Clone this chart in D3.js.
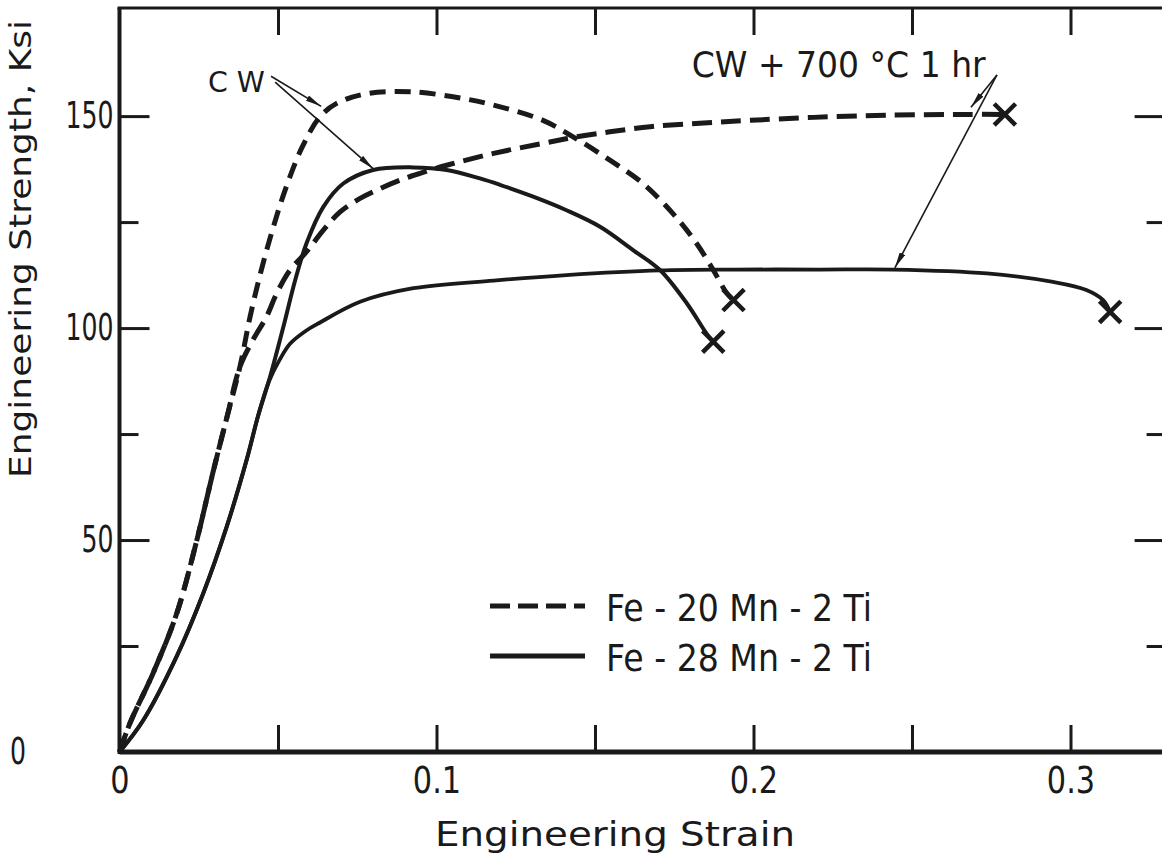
<!DOCTYPE html>
<html>
<head>
<meta charset="utf-8">
<script src="https://cdn.jsdelivr.net/npm/d3@7"></script>
<style>
  html, body { margin: 0; padding: 0; background: #fff; }
  svg { display: block; }
  text { font-family: "DejaVu Sans", sans-serif; fill: #1a1a1a; }
</style>
</head>
<body>
<svg id="chart" width="1162" height="860"></svg>
<script>
// Engineering stress-strain curves, Fe-Mn-Ti alloys

const xTickVals = [0.05, 0.1, 0.15, 0.2, 0.25, 0.3];
const xLabelVals = [0, 0.1, 0.2, 0.3];
const yMajorTicks = [50, 100, 150];
const yMinorTicks = [25, 75, 125];
const yLabelVals = [0, 50, 100, 150];

// Fe-20Mn-2Ti, cold worked
const strain20CW = [0, 0.0033, 0.0106, 0.0181, 0.0244, 0.0295, 0.0339, 0.038, 0.0412, 0.0445, 0.048, 0.052,
    0.0575, 0.0632, 0.0685, 0.078, 0.0926, 0.108, 0.118, 0.1336, 0.144, 0.1547, 0.165, 0.1746, 0.182,
    0.1873, 0.1916, 0.1937];
const stress20CW = [0, 6.8, 18.6, 32.8, 50, 66, 79, 90.9, 102.7, 113, 122.5, 132,
    142.5, 149.8, 153, 155.3, 155.7, 154.2, 152.6, 149, 144.7, 139.6, 134.2, 127, 120,
    113.7, 108.2, 106.6];

// Fe-20Mn-2Ti, cold worked + 700 C 1 hr
const strain20HT = [0, 0.0033, 0.0106, 0.0181, 0.0244, 0.0295, 0.0339, 0.038, 0.0421, 0.0464, 0.0496, 0.0538,
    0.059, 0.0643, 0.0696, 0.0759, 0.0822, 0.0885, 0.0948, 0.1032, 0.118, 0.1337, 0.1442, 0.1547,
    0.1674, 0.183, 0.199, 0.219, 0.242, 0.267, 0.2793];
const stress20HT = [0, 6.8, 18.6, 32.8, 50, 66, 79, 90.9, 97.2, 102.7, 108.2, 113.7,
    118, 123.1, 127.4, 130.6, 132.9, 134.9, 136.5, 138.4, 141.2, 143.6, 145.1, 146.3,
    147.5, 148.3, 149, 149.7, 150.2, 150.4, 150.4];

// Fe-28Mn-2Ti, cold worked
const strain28CW = [0, 0.0075, 0.018, 0.0264, 0.0338, 0.0401, 0.0438, 0.0475, 0.0517, 0.0555, 0.059, 0.0643,
    0.0706, 0.08, 0.0927, 0.1032, 0.1137, 0.12, 0.1305, 0.141, 0.1516, 0.162, 0.1705, 0.179,
    0.1852, 0.1873];
const stress28CW = [0, 7.5, 22.5, 37.4, 53.1, 68.9, 79.5, 88.5, 100.3, 111.5, 120, 128.6,
    134.1, 137.3, 137.9, 137.3, 135.3, 133.8, 131, 127.8, 123.9, 118.4, 113.7, 105.8,
    98.7, 96.8];

// Fe-28Mn-2Ti, cold worked + 700 C 1 hr
const strain28HT = [0, 0.0075, 0.018, 0.0264, 0.0338, 0.0401, 0.0438, 0.0472, 0.0505, 0.0538, 0.0585, 0.063,
    0.0759, 0.0927, 0.118, 0.141, 0.1705, 0.1937, 0.221, 0.244, 0.2736, 0.2945, 0.305, 0.3103, 0.3125];
const stress28HT = [0, 7.5, 22.5, 37.4, 53.1, 68.9, 79.5, 87.5, 92.5, 96.3, 99.2, 101.2,
    106.2, 109.4, 111.2, 112.5, 113.6, 113.8, 113.8, 113.8, 112.9, 110.9, 109, 106.6, 103.8];

const series = [
    { strain: strain20CW, stress: stress20CW, dash: '16,9', width: 5 },
    { strain: strain20HT, stress: stress20HT, dash: '20,9', width: 5 },
    { strain: strain28CW, stress: stress28CW, dash: null, width: 4 },
    { strain: strain28HT, stress: stress28HT, dash: null, width: 3.8 }
];

const svg = d3.select('#chart');
const width = 1162;

const x = d3.scaleLinear().domain([0, 0.33]).range([119.5, 1165.6]);
const y = d3.scaleLinear().domain([0, 175.5]).range([752, 8]);

const ink = '#1a1a1a';

// squeeze DejaVu glyphs toward the narrow lettering-guide look
function condense(sel, factor) {
    sel.each(function () {
        const w = this.getComputedTextLength();
        d3.select(this).attr('textLength', w * factor).attr('lengthAdjust', 'spacingAndGlyphs');
    });
}

// tick marks (all pointing inward)
function tickAxis(axis, transform, size, vals) {
    const g = svg.append('g')
        .attr('transform', transform)
        .call(axis.tickValues(vals).tickSize(size).tickFormat(''));
    g.select('.domain').remove();
    g.selectAll('.tick line').attr('stroke', ink).attr('stroke-width', 3);
    return g;
}

tickAxis(d3.axisBottom(x), `translate(0,${y(0)})`, -27, xTickVals);
tickAxis(d3.axisTop(x), `translate(0,${y(175.5)})`, -27, xTickVals);
tickAxis(d3.axisLeft(y), `translate(${x(0)},0)`, -30, yMajorTicks);
tickAxis(d3.axisLeft(y), `translate(${x(0)},0)`, -19, yMinorTicks);
tickAxis(d3.axisRight(y), `translate(${x(0.33)},0)`, -31, yMajorTicks);
tickAxis(d3.axisRight(y), `translate(${x(0.33)},0)`, -19, yMinorTicks);

// frame
svg.append('line').attr('x1', x(0)).attr('x2', width).attr('y1', y(0)).attr('y2', y(0))
    .attr('stroke', ink).attr('stroke-width', 5);
svg.append('line').attr('x1', x(0)).attr('x2', x(0)).attr('y1', y(0) + 2).attr('y2', y(175.5))
    .attr('stroke', ink).attr('stroke-width', 4);
svg.append('line').attr('x1', x(0) - 2).attr('x2', width).attr('y1', y(175.5)).attr('y2', y(175.5))
    .attr('stroke', ink).attr('stroke-width', 3);

// tick labels
const xLab = svg.append('g')
    .attr('transform', `translate(0,${y(0)})`)
    .call(d3.axisBottom(x).tickValues(xLabelVals).tickSize(0).tickPadding(15)
        .tickFormat(d => d === 0 ? '0' : d.toFixed(1)));
xLab.select('.domain').remove();
xLab.selectAll('text').attr('font-size', 37).attr('font-family', null).attr('fill', ink);
condense(xLab.selectAll('text'), 0.82);

const yLab = svg.append('g')
    .attr('transform', `translate(${x(0)},0)`)
    .call(d3.axisLeft(y).tickValues(yLabelVals).tickSize(0).tickPadding(6));
yLab.select('.domain').remove();
yLab.selectAll('text').attr('font-size', 37).attr('font-family', null).attr('fill', ink);
yLab.selectAll('.tick').filter(d => d === 0).select('text').attr('x', -(x(0) - 26));
condense(yLab.selectAll('text'), 0.68);

// axis titles
svg.append('text')
    .attr('x', 615).attr('y', 846)
    .attr('text-anchor', 'middle')
    .attr('font-size', 34)
    .attr('textLength', 360).attr('lengthAdjust', 'spacingAndGlyphs')
    .text('Engineering Strain');

svg.append('text')
    .attr('transform', 'translate(31,249) rotate(-90)')
    .attr('text-anchor', 'middle')
    .attr('font-size', 31)
    .attr('textLength', 458).attr('lengthAdjust', 'spacingAndGlyphs')
    .text('Engineering Strength, Ksi');

// curves
const line = d3.line()
    .x(d => x(d[0]))
    .y(d => y(d[1]))
    .curve(d3.curveCatmullRom.alpha(0.5));

series.forEach(s => {
    const pts = s.strain.map((v, i) => [v, s.stress[i]]);
    svg.append('path')
        .attr('d', line(pts))
        .attr('fill', 'none')
        .attr('stroke', ink)
        .attr('stroke-width', s.width)
        .attr('stroke-dasharray', s.dash)
        .attr('stroke-linejoin', 'round');

    // fracture mark
    const last = pts[pts.length - 1];
    svg.append('path')
        .attr('d', d3.symbol().type(d3.symbolX).size(300)())
        .attr('transform', `translate(${x(last[0])},${y(last[1])})`)
        .attr('fill', 'none')
        .attr('stroke', ink)
        .attr('stroke-width', 4.5);
});

// annotations
svg.append('defs').append('marker')
    .attr('id', 'arrow')
    .attr('viewBox', '0 0 16 6')
    .attr('refX', 16).attr('refY', 3)
    .attr('markerWidth', 16).attr('markerHeight', 6)
    .attr('markerUnits', 'userSpaceOnUse')
    .attr('orient', 'auto')
    .append('path')
    .attr('d', 'M0,0 L16,3 L0,6 Z')
    .attr('fill', ink);

const arrows = [
    [[0.0478, 159.4], [0.0636, 152.3]],
    [[0.0491, 158.0], [0.0800, 137.6]],
    [[0.2768, 159.7], [0.2686, 152.1]],
    [[0.2768, 159.7], [0.2446, 114.2]]
];
arrows.forEach(([a, b]) => {
    svg.append('line')
        .attr('x1', x(a[0])).attr('y1', y(a[1]))
        .attr('x2', x(b[0])).attr('y2', y(b[1]))
        .attr('stroke', ink).attr('stroke-width', 1.6)
        .attr('marker-end', 'url(#arrow)');
});

svg.append('text')
    .attr('x', x(0.0279)).attr('y', y(155.6))
    .attr('font-size', 29)
    .attr('textLength', 57).attr('lengthAdjust', 'spacingAndGlyphs')
    .text('C W');

svg.append('text')
    .attr('x', x(0.1805)).attr('y', y(159.3))
    .attr('font-size', 35)
    .attr('textLength', 294).attr('lengthAdjust', 'spacingAndGlyphs')
    .text('CW + 700 °C  1 hr');

// legend
const legend = [
    { label: 'Fe - 20 Mn - 2 Ti', dash: '20,8', ly: 606 },
    { label: 'Fe - 28 Mn - 2 Ti', dash: null, ly: 656 }
];
legend.forEach(l => {
    svg.append('line')
        .attr('x1', 490).attr('x2', 585).attr('y1', l.ly).attr('y2', l.ly)
        .attr('stroke', ink).attr('stroke-width', 5)
        .attr('stroke-dasharray', l.dash);
    svg.append('text')
        .attr('x', 606).attr('y', l.ly + 2)
        .attr('dy', '0.35em')
        .attr('font-size', 37)
        .attr('textLength', 266).attr('lengthAdjust', 'spacingAndGlyphs')
        .text(l.label);
});
</script>
</body>
</html>
